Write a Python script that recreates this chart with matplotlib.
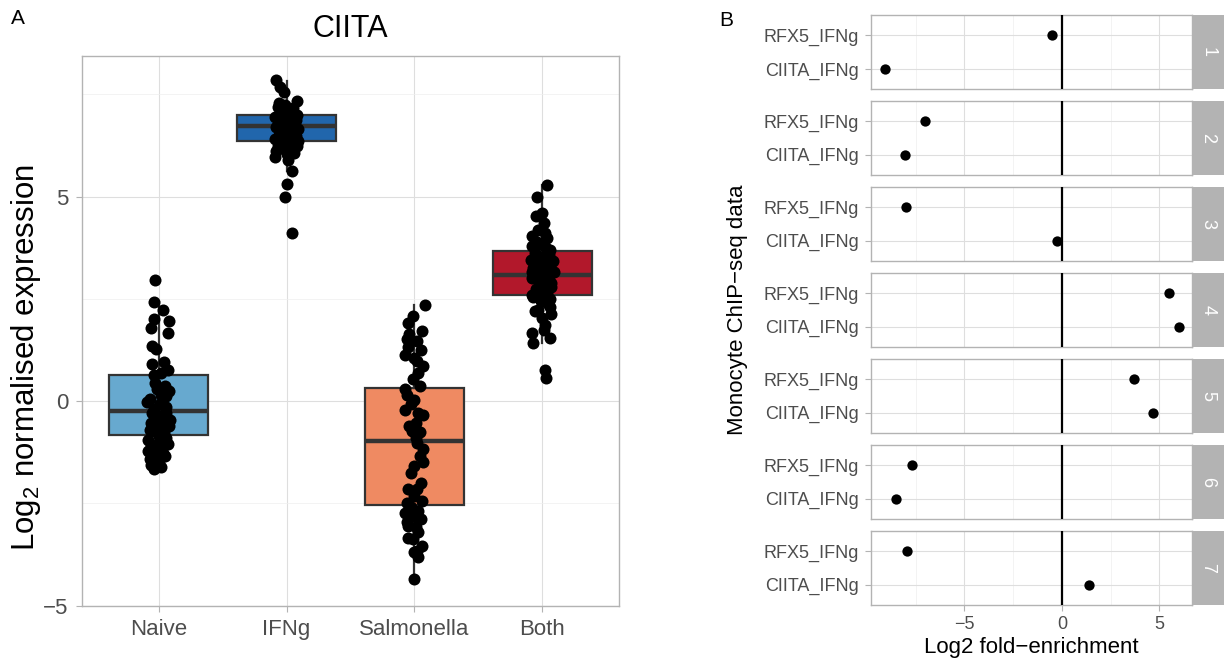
import matplotlib
matplotlib.use("Agg")
import matplotlib.pyplot as plt
import numpy as np

plt.rcParams['font.family'] = ['Liberation Sans', 'DejaVu Sans']
plt.rcParams['mathtext.fontset'] = 'custom'
plt.rcParams['mathtext.rm'] = 'Liberation Sans'

# ---- panel A data: CIITA expression per condition ----
conditions = ['Naive', 'IFNg', 'Salmonella', 'Both']
box_colors = ['#67A9CF', '#2166AC', '#EF8A62', '#B2182B']

box_lo = [-1.70, 5.62, -4.35, 1.41]
box_q1 = [-0.83, 6.35, -2.55, 2.59]
box_med = [-0.24, 6.73, -0.98, 3.09]
box_q3 = [0.63, 7.00, 0.31, 3.68]
box_hi = [2.43, 7.84, 2.34, 5.29]

naive_y = [2.97, 2.43, 2.24, 2.01, 1.95, 1.79, 1.67, 1.36, 1.28, 0.90, 0.95, 0.77, 0.63, 0.68,
           0.37, 0.29, 0.06, 0.12, -0.08, -0.20, -0.28, -0.41, -0.53, -0.53, -0.65, -0.73, -0.89,
           -0.85, -1.10, -1.10, -1.22, -1.30, -1.26, -1.42, -1.46, -1.67,
           0.45, 0.25, -0.02, 0.15, -0.30, -0.45, -0.60, -0.78, -0.95, -1.05, -1.15, -1.35, -1.55,
           -1.62, -0.15, -0.70, -1.00, -0.35, -1.40, -0.62]
naive_dx = [-0.03, -0.04, 0.03, -0.04, 0.08, -0.06, 0.07, -0.05, -0.02, -0.05, 0.04, 0.07, -0.04, 0.02,
            0.05, -0.01, -0.07, 0.06, 0.01, -0.04, 0.06, -0.01, -0.06, 0.05, 0.01, -0.05, 0.06,
            0.00, -0.06, 0.01, -0.08, -0.02, 0.03, -0.07, 0.00, -0.04,
            -0.03, 0.08, -0.09, 0.02, -0.05, 0.09, -0.02, 0.04, -0.08, 0.07, -0.04, 0.05, -0.06,
            0.02, 0.06, -0.07, 0.00, 0.03, -0.01, 0.08]

ifng_y = [7.85, 7.69, 7.57, 7.28, 7.35, 7.12, 5.98, 5.90, 5.62, 5.31, 4.99, 4.11,
          7.20, 7.18, 7.05, 7.00, 6.95, 6.90, 6.85, 6.80, 6.75, 6.70, 6.66, 6.62, 6.58, 6.52,
          6.48, 6.44, 6.40, 6.35, 6.30, 6.25, 6.20, 6.15, 6.12, 6.08, 6.05, 6.55, 6.95, 7.25,
          6.35, 6.25, 7.12, 6.40, 6.88, 6.60, 6.78, 6.18]
ifng_dx = [-0.08, -0.05, -0.02, -0.06, 0.08, 0.02, -0.09, 0.01, 0.04, 0.00, -0.01, 0.04,
           -0.07, 0.05, -0.02, 0.08, -0.09, 0.03, -0.05, 0.06, 0.00, -0.08, 0.09, -0.03, 0.04, -0.06,
           0.07, 0.01, -0.09, 0.05, -0.02, 0.08, -0.05, 0.03, -0.08, 0.06, 0.00, -0.04, 0.02, -0.01,
           0.09, -0.07, 0.04, -0.03, 0.07, 0.00, -0.06, 0.02]

salm_y = [2.34, 2.09, 1.65, 1.71, 1.51, 1.47, 1.33, 1.25, 1.14, 1.06, 0.98, 0.87, 0.55, 0.37,
          0.29, 0.14, 0.04, -0.08, -0.22, -0.30, -0.35, -0.53, -0.73, -0.76, -0.89, -1.02, -1.18,
          -1.50, -1.59, -1.75, -2.16, -2.16, -2.32, -2.44, -2.48, -2.60, -2.69, -2.73, -2.81,
          -2.89, -3.05, -3.09, -3.21, -3.34, -3.38, -3.54, -3.66, -3.70, -3.82, -4.35,
          1.90, -0.60, -2.00, -2.95, -1.35, 0.70]
salm_dx = [0.08, -0.01, -0.04, 0.06, -0.06, 0.02, -0.05, 0.05, -0.07, 0.00, 0.02, 0.07, -0.01, 0.04,
           -0.07, -0.06, 0.00, -0.03, -0.07, 0.03, 0.07, 0.01, -0.02, 0.04, 0.01, 0.02, 0.07,
           0.07, 0.00, -0.03, -0.05, 0.02, 0.00, 0.06, -0.06, -0.03, 0.03, -0.07, 0.00,
           0.05, -0.05, 0.01, 0.03, -0.05, -0.01, 0.06, 0.02, 0.00, 0.03, 0.00,
           -0.05, -0.04, 0.05, -0.06, 0.04, 0.03]

both_y = [5.29, 5.00, 4.61, 4.52, 4.36, 4.19, 4.03, 3.99, 3.80, 3.70, 3.30, 3.17, 2.89, 2.60,
          2.40, 2.24, 2.14, 2.04, 1.87, 1.75, 1.67, 1.55, 1.41, 0.77, 0.57,
          3.62, 3.58, 3.52, 3.45, 3.42, 3.38, 3.33, 3.25, 3.20, 3.15, 3.10, 3.05, 3.00, 2.95,
          2.85, 2.80, 2.75, 2.70, 2.65, 2.55, 2.50, 2.45, 3.75, 3.90, 4.10, 3.85, 2.30, 2.20]
both_dx = [0.04, -0.04, 0.00, -0.05, 0.01, -0.03, -0.08, 0.04, -0.08, 0.06, 0.06, -0.08, 0.07, -0.08,
           0.04, -0.03, 0.07, 0.00, 0.02, 0.01, -0.08, 0.06, -0.07, 0.02, 0.03,
           -0.06, 0.05, 0.00, -0.09, 0.08, -0.03, 0.03, -0.07, 0.01, 0.09, -0.04, 0.05, -0.08, 0.02,
           -0.02, 0.07, -0.05, 0.00, 0.04, -0.07, 0.06, -0.01, 0.03, -0.04, 0.02, -0.01, 0.06, -0.06]

points_y = [naive_y, ifng_y, salm_y, both_y]
points_dx = [naive_dx, ifng_dx, salm_dx, both_dx]

# ---- panel B data: ChIP-seq fold enrichment per facet ----
facets = ['1', '2', '3', '4', '5', '6', '7']
chip_labels = ['CIITA_IFNg', 'RFX5_IFNg']
rfx5_fe = [-0.49, -7.04, -7.98, 5.49, 3.68, -7.70, -7.94]
ciita_fe = [-9.07, -8.07, -0.26, 6.01, 4.66, -8.50, 1.38]

W, H = 1225, 661
fig = plt.figure(figsize=(W / 100, H / 100), dpi=100)


def px_axes(x0, y0, x1, y1):
    return fig.add_axes([x0 / W, 1 - y1 / H, (x1 - x0) / W, (y1 - y0) / H])


grid_major = '#DEDEDE'
grid_minor = '#EFEFEF'
border = '#B3B3B3'
tick_text = '#4D4D4D'

# ---------------- panel A ----------------
axA = px_axes(82, 56, 619, 605.6)
stats = []
for i in range(4):
    stats.append(dict(med=box_med[i], q1=box_q1[i], q3=box_q3[i],
                      whislo=box_lo[i], whishi=box_hi[i], fliers=[]))
bp = axA.bxp(stats, positions=[1, 2, 3, 4], widths=0.77, patch_artist=True,
             showfliers=False, showcaps=False,
             boxprops=dict(edgecolor='#333333', linewidth=1.6),
             medianprops=dict(color='#333333', linewidth=3.2),
             whiskerprops=dict(color='#333333', linewidth=1.6))
for patch, col in zip(bp['boxes'], box_colors):
    patch.set_facecolor(col)
for i in range(4):
    xs = np.array(points_dx[i]) + (i + 1)
    axA.scatter(xs, points_y[i], s=75, c='black', linewidths=0, zorder=4)

axA.set_xlim(0.4, 4.6)
axA.set_ylim(-4.98, 8.44)
axA.set_xticks([1, 2, 3, 4])
axA.set_xticklabels(conditions)
axA.set_yticks([-5, 0, 5])
axA.set_yticks([-2.5, 2.5, 7.5], minor=True)
axA.set_axisbelow(True)
axA.grid(True, which='major', color=grid_major, linewidth=0.8)
axA.grid(True, which='minor', axis='y', color=grid_minor, linewidth=0.5)
for sp in axA.spines.values():
    sp.set_color(border)
    sp.set_linewidth(1.0)
axA.tick_params(which='major', color=border, length=4, labelcolor=tick_text, labelsize=16, pad=6)
axA.tick_params(which='minor', length=0)

fig.text(18 / W, 1 - 19 / H, 'A', ha='center', va='center', fontsize=15)
fig.text(350 / W, 1 - 29 / H, 'CIITA', ha='center', va='center', fontsize=22)
fig.text(26 / W, 1 - 358 / H, r'Log$_\mathrm{2}$ normalised expression', rotation=90,
         ha='center', va='center', fontsize=22.5)

# ---------------- panel B ----------------
for i in range(7):
    top = 15 + 85.95 * i
    ax = px_axes(871.3, top, 1192, top + 74)
    ax.scatter([ciita_fe[i], rfx5_fe[i]], [1, 2], s=55, c='black', linewidths=0, zorder=4)
    ax.axvline(0, color='black', linewidth=1.6, zorder=3)
    ax.set_xlim(-9.78, 6.67)
    ax.set_ylim(0.4, 2.6)
    ax.set_yticks([1, 2])
    ax.set_yticklabels(chip_labels)
    ax.set_xticks([-5, 0, 5])
    ax.set_xticks([-7.5, -2.5, 2.5], minor=True)
    ax.set_axisbelow(True)
    ax.grid(True, which='major', color=grid_major, linewidth=0.8)
    ax.grid(True, which='minor', axis='x', color=grid_minor, linewidth=0.5)
    for sp in ax.spines.values():
        sp.set_color(border)
        sp.set_linewidth(1.0)
    ax.tick_params(which='major', color=border, length=4, labelcolor=tick_text, labelsize=13, pad=5)
    ax.tick_params(which='minor', length=0)
    if i < 6:
        ax.tick_params(axis='x', length=0, labelbottom=False)
    else:
        ax.tick_params(axis='x', labelsize=13, pad=4)

    strip = px_axes(1192, top, 1224, top + 74)
    strip.set_facecolor(border)
    strip.set_xticks([])
    strip.set_yticks([])
    for sp in strip.spines.values():
        sp.set_visible(False)
    strip.text(0.5, 0.5, facets[i], rotation=270, color='white', fontsize=13,
               ha='center', va='center', transform=strip.transAxes)

fig.text(726 / W, 1 - 21 / H, 'B', ha='center', va='center', fontsize=15)
fig.text(738 / W, 1 - 310 / H, 'Monocyte ChIP\u2212seq data', rotation=90,
         ha='center', va='center', fontsize=16)
fig.text(1031.5 / W, 1 - 648 / H, 'Log2 fold\u2212enrichment', ha='center', va='center', fontsize=16)

fig.savefig('out.png', dpi=100)
